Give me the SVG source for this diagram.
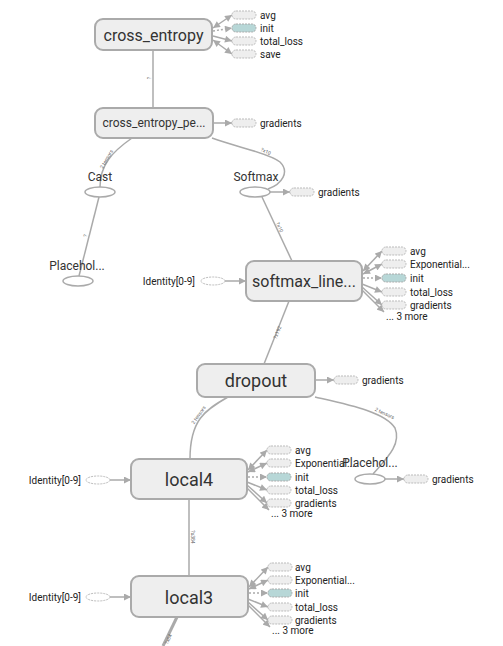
<svg xmlns="http://www.w3.org/2000/svg" width="503" height="646" viewBox="0 0 503 646">
<style>
.node{fill:#eeeeee;stroke:#aaaaaa;stroke-width:2}
.lbl{font-family:Roboto,"Liberation Sans",sans-serif;fill:#333;text-anchor:middle;dominant-baseline:central}
.sm{font-family:Roboto,"Liberation Sans",sans-serif;fill:#222;font-size:10px;dominant-baseline:central}
.aux{fill:#eeeeee;stroke:#bbbbbb;stroke-width:1;stroke-dasharray:2,1}
.auxi{fill:#b7d7d7;stroke:#aaaaaa;stroke-width:1;stroke-dasharray:2,1}
.op{fill:#fff;stroke:#aaaaaa;stroke-width:1.5}
.dop{fill:#fff;stroke:#bbbbbb;stroke-width:1;stroke-dasharray:2,1}
.e{fill:none;stroke:#aaaaaa;stroke-width:1.5}
.ea{fill:none;stroke:#aaaaaa;stroke-width:1.5;marker-end:url(#ah)}
.eb{fill:none;stroke:#aaaaaa;stroke-width:1.5;marker-end:url(#ah);marker-start:url(#ah)}
.ed{fill:none;stroke:#aaaaaa;stroke-width:1.5;stroke-dasharray:2,2;marker-end:url(#ah)}
.el{font-family:Roboto,"Liberation Sans",sans-serif;fill:#666;font-size:5px;text-anchor:middle}
</style>
<defs>
<marker id="ah" viewBox="0 0 10 10" refX="10" refY="5" markerUnits="userSpaceOnUse" markerWidth="8" markerHeight="7" orient="auto-start-reverse"><path d="M0,0 L10,5 L0,10 z" fill="#aaaaaa"/></marker>
</defs>
<g id="edges">
<path class="e" d="M153,50 L153,108"/>
<text class="el" transform="translate(151,78) rotate(-90)">?</text>
<path class="e" d="M132,138 C112,152 100,165 100,187"/>
<text class="el" transform="translate(108,160) rotate(-60)">2 tensors</text>
<path class="e" d="M212,138 C240,148 268,153 280,162 C290,172 282,184 268,189"/>
<text class="el" transform="translate(265,153) rotate(25)">?x10</text>
<path class="e" d="M99,197 L79,276"/>
<text class="el" transform="translate(87,236) rotate(-76)">?</text>
<path class="e" d="M262,197 L292,261"/>
<text class="el" transform="translate(278,228) rotate(64)">?x10</text>
<path class="e" d="M289,301 L264,364"/>
<text class="el" transform="translate(279,333) rotate(-68)">?x192</text>
<path class="e" d="M228,397 C205,410 190,420 190,459"/>
<text class="el" transform="translate(200,416) rotate(-55)">2 tensors</text>
<path class="e" d="M315,397 C350,405 385,412 395,428 C402,445 385,460 373,474"/>
<text class="el" transform="translate(384,415) rotate(25)">2 tensors</text>
<path class="e" d="M189,499 L189,576"/>
<text class="el" transform="translate(191,537) rotate(90)">?x384</text>
<path fill="none" stroke="#aaaaaa" stroke-width="3" d="M177,617 L163,646"/>
<text class="el" transform="translate(170,640) rotate(-65)">?x64</text>
<path class="eb" d="M213,28 L232,15"/>
<path class="ed" d="M213,31 L232,28"/>
<path class="ea" d="M213,36 L232,41"/>
<path class="eb" d="M213,40 L232,54"/>
<path class="ea" d="M213,123 L232,123"/>
<path class="ea" d="M270,192 L290,192"/>
<path class="ea" d="M225,281 L246,281"/>
<path class="eb" d="M363,271 L382,251"/>
<path class="eb" d="M363,274 L382,264"/>
<path class="ed" d="M363,278 L382,278"/>
<path class="ea" d="M362,284 L382,292"/>
<path class="ea" d="M362,287 L382,305"/>
<path class="ea" d="M362,290 L384,312"/>
<path class="ea" d="M315,380 L334,380"/>
<path class="ea" d="M385,479 L404,479"/>
<path class="ea" d="M110,480 L131,480"/>
<path class="eb" d="M248,470 L267,450"/>
<path class="eb" d="M248,472 L267,463"/>
<path class="ed" d="M248,477 L267,477"/>
<path class="ea" d="M247,482 L267,490"/>
<path class="ea" d="M247,485 L267,503"/>
<path class="ea" d="M247,488 L269,510"/>
<path class="ea" d="M110,597 L131,597"/>
<path class="eb" d="M249,587 L268,567"/>
<path class="eb" d="M249,589 L268,580"/>
<path class="ed" d="M249,593 L268,593"/>
<path class="ea" d="M248,599 L268,607"/>
<path class="ea" d="M248,602 L268,620"/>
<path class="ea" d="M248,605 L270,627"/>
</g>
<g id="cross_entropy">
<rect class="node" x="95" y="19" width="117" height="31" rx="8"/>
<text class="lbl" x="153.5" y="35" font-size="16">cross_entropy</text>
</g>
<g id="cross_entropy_aux">
<rect class="aux" x="232" y="11" width="24" height="8" rx="4"/><text class="sm" x="260" y="15">avg</text>
<rect class="auxi" x="232" y="24" width="24" height="8" rx="4"/><text class="sm" x="260" y="28">init</text>
<rect class="aux" x="232" y="37" width="24" height="8" rx="4"/><text class="sm" x="260" y="41">total_loss</text>
<rect class="aux" x="232" y="50" width="24" height="8" rx="4"/><text class="sm" x="260" y="54">save</text>
</g>
<g id="cross_entropy_pe">
<rect class="node" x="95" y="108" width="118" height="30" rx="8"/>
<text class="lbl" x="154" y="123" font-size="12">cross_entropy_pe...</text>
<rect class="aux" x="232" y="119" width="24" height="8" rx="4"/><text class="sm" x="260" y="123">gradients</text>
</g>
<g id="Cast">
<text class="lbl" x="100" y="177" font-size="12">Cast</text>
<ellipse class="op" cx="100" cy="192" rx="15" ry="5"/>
</g>
<g id="Softmax">
<text class="lbl" x="256" y="177" font-size="12">Softmax</text>
<ellipse class="op" cx="255" cy="192" rx="15" ry="5"/>
<rect class="aux" x="290" y="188" width="24" height="8" rx="4"/><text class="sm" x="318" y="192">gradients</text>
</g>
<g id="Placeholder">
<text class="lbl" x="77" y="266" font-size="12">Placehol...</text>
<ellipse class="op" cx="78" cy="281" rx="15" ry="5"/>
</g>
<g id="softmax_linear">
<text class="sm" x="195" y="281" text-anchor="end">Identity[0-9]</text>
<ellipse class="dop" cx="213" cy="281" rx="12" ry="4"/>
<rect class="node" x="246" y="261" width="116" height="40" rx="8"/>
<text class="lbl" x="304" y="281" font-size="16">softmax_line...</text>
<rect class="aux" x="382" y="247" width="24" height="8" rx="4"/><text class="sm" x="410" y="251">avg</text>
<rect class="aux" x="382" y="260" width="24" height="8" rx="4"/><text class="sm" x="410" y="264">Exponential...</text>
<rect class="auxi" x="382" y="274" width="24" height="8" rx="4"/><text class="sm" x="410" y="278">init</text>
<rect class="aux" x="382" y="288" width="24" height="8" rx="4"/><text class="sm" x="410" y="292">total_loss</text>
<rect class="aux" x="382" y="301" width="24" height="8" rx="4"/><text class="sm" x="410" y="305">gradients</text>
<text class="sm" x="386" y="316">... 3 more</text>
</g>
<g id="dropout">
<rect class="node" x="197" y="364" width="118" height="33" rx="8"/>
<text class="lbl" x="256" y="380" font-size="18">dropout</text>
<rect class="aux" x="334" y="376" width="24" height="8" rx="4"/><text class="sm" x="362" y="380">gradients</text>
</g>
<g id="local4">
<text class="sm" x="81" y="480" text-anchor="end">Identity[0-9]</text>
<ellipse class="dop" cx="98" cy="480" rx="12" ry="4"/>
<rect class="node" x="131" y="459" width="116" height="40" rx="8"/>
<text class="lbl" x="189" y="479" font-size="18">local4</text>
<rect class="aux" x="267" y="446" width="24" height="8" rx="4"/><text class="sm" x="295" y="450">avg</text>
<rect class="aux" x="267" y="459" width="24" height="8" rx="4"/><text class="sm" x="295" y="463">Exponential...</text>
<rect class="auxi" x="267" y="473" width="24" height="8" rx="4"/><text class="sm" x="295" y="477">init</text>
<rect class="aux" x="267" y="486" width="24" height="8" rx="4"/><text class="sm" x="295" y="490">total_loss</text>
<rect class="aux" x="267" y="499" width="24" height="8" rx="4"/><text class="sm" x="295" y="503">gradients</text>
<text class="sm" x="271" y="513">... 3 more</text>
</g>
<g id="Placeholder_1">
<text class="lbl" x="370" y="463" font-size="12">Placehol...</text>
<ellipse class="op" cx="370" cy="479" rx="15" ry="5"/>
<rect class="aux" x="404" y="475" width="24" height="8" rx="4"/><text class="sm" x="432" y="479">gradients</text>
</g>
<g id="local3">
<text class="sm" x="81" y="597" text-anchor="end">Identity[0-9]</text>
<ellipse class="dop" cx="98" cy="597" rx="12" ry="4"/>
<rect class="node" x="131" y="576" width="117" height="41" rx="8"/>
<text class="lbl" x="189" y="597" font-size="18">local3</text>
<rect class="aux" x="268" y="563" width="24" height="8" rx="4"/><text class="sm" x="295" y="567">avg</text>
<rect class="aux" x="268" y="576" width="24" height="8" rx="4"/><text class="sm" x="295" y="580">Exponential...</text>
<rect class="auxi" x="268" y="589" width="24" height="8" rx="4"/><text class="sm" x="295" y="593">init</text>
<rect class="aux" x="268" y="603" width="24" height="8" rx="4"/><text class="sm" x="295" y="607">total_loss</text>
<rect class="aux" x="268" y="616" width="24" height="8" rx="4"/><text class="sm" x="295" y="620">gradients</text>
<text class="sm" x="272" y="630">... 3 more</text>
</g>
</svg>
